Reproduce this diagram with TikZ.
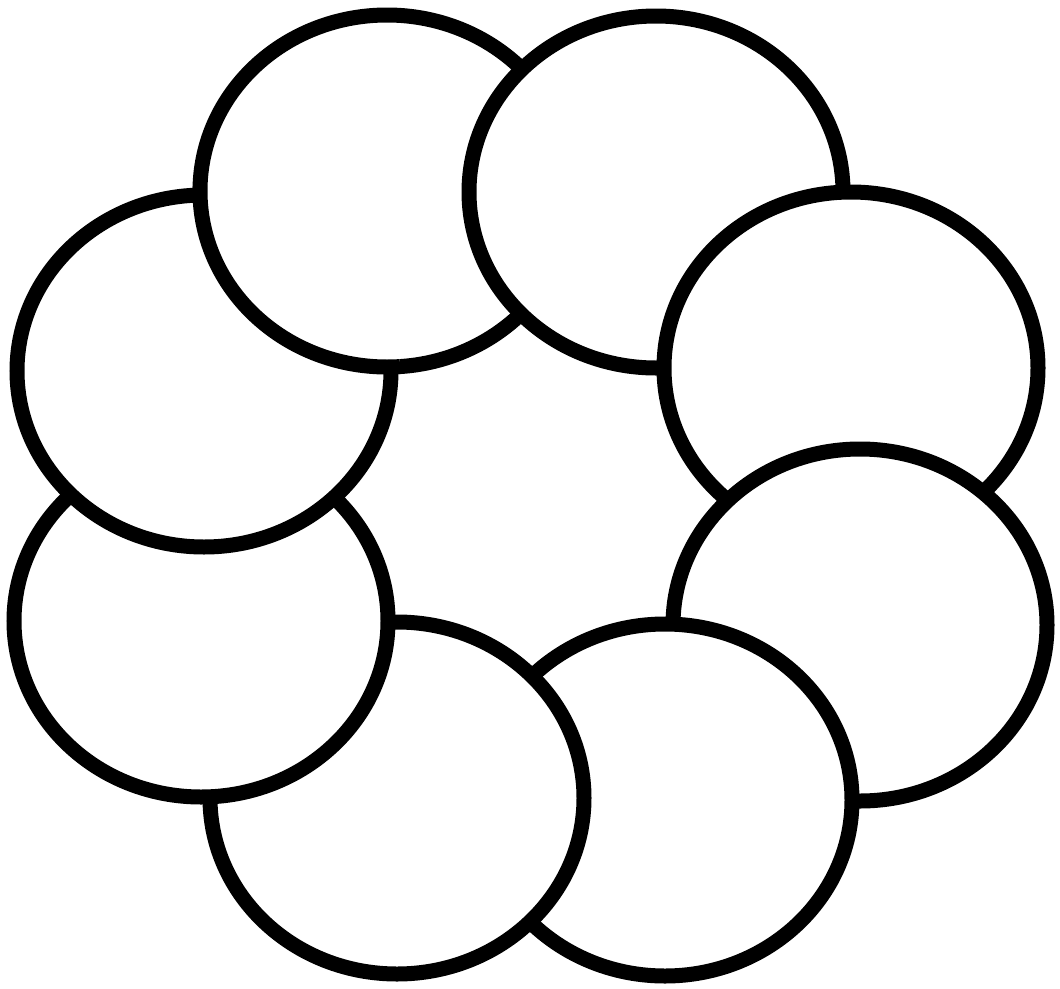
\documentclass[tikz,border=0pt]{standalone}
\begin{document}
\begin{tikzpicture}[x=1pt,y=-1pt,
  ring/.style={draw=black,fill=white,line width=15pt},
  rx/.store in=\rx, rx=187pt]
\useasboundingbox[fill=white] (0,0) rectangle (1060,988);
\coordinate (A) at (387,191);
\coordinate (B) at (656,192);
\coordinate (C) at (851,368);
\coordinate (D) at (860,625);
\coordinate (E) at (665,800);
\coordinate (F) at (397,798);
\coordinate (G) at (201,621);
\coordinate (H) at (204,371);
\foreach \c in {A,B,C,D,E,F,G,H}
  \path[ring] (\c) ellipse [x radius=187pt, y radius=176pt];
% close the ring: A lies over H
\begin{scope}
  \clip (H) ellipse [x radius=196pt, y radius=185pt];
  \path[ring] (A) ellipse [x radius=187pt, y radius=176pt];
\end{scope}
\end{tikzpicture}
\end{document}
